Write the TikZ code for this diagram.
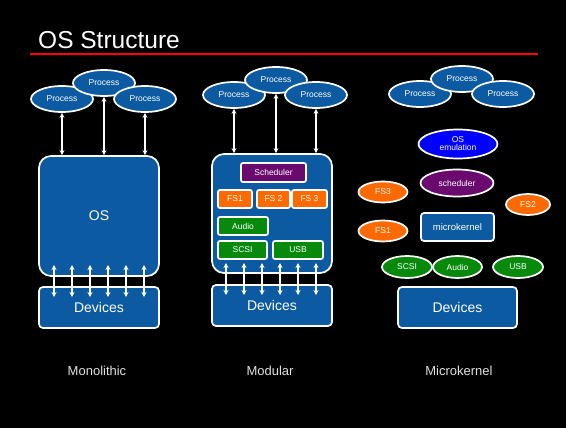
\documentclass[tikz,border=0pt]{standalone}
\usepackage{fontspec}
\setmainfont{Liberation Sans}
\usetikzlibrary{shapes.geometric,arrows.meta}
\definecolor{osblue}{HTML}{0B5AA2}
\definecolor{modorange}{HTML}{FF6A00}
\definecolor{modgreen}{HTML}{078A0C}
\definecolor{modpurple}{HTML}{6A0A6E}
\definecolor{emublue}{HTML}{0000FF}
\definecolor{titlered}{HTML}{FF0000}
\definecolor{labelgray}{HTML}{E0E0E0}
\tikzset{
  shapeline/.style={draw=white, line width=1.7pt, text=white, inner sep=0pt},
  proc/.style={shapeline, ellipse, fill=osblue, minimum width=62pt, minimum height=26pt, font=\fontsize{8.5}{9}\selectfont},
  bigbox/.style={shapeline, rectangle, fill=osblue, rounded corners=12pt},
  devbox/.style={shapeline, rectangle, fill=osblue, rounded corners=4pt, font=\fontsize{14}{16}\selectfont},
  module/.style={shapeline, rectangle, rounded corners=2pt, font=\fontsize{8.5}{9}\selectfont},
  oval/.style={shapeline, ellipse, font=\fontsize{8.5}{9}\selectfont},
  link/.style={draw=white, line width=1.2pt, {Stealth[length=5pt,width=5pt]}-{Stealth[length=5pt,width=5pt]}},
  caption/.style={text=labelgray, font=\fontsize{13}{15}\selectfont}
}
\begin{document}
\begin{tikzpicture}[x=1pt,y=-1pt]
\fill[black] (0,0) rectangle (566,428);
\useasboundingbox (0,0) rectangle (566,428);

% title
\node[anchor=base west, text=white, font=\fontsize{24.5}{28}\selectfont, inner sep=0pt] (title) at (38,49) {OS Structure};
\coordinate (rulel) at (30,54);
\coordinate (ruler) at (538,54);
\draw[draw=titlered, line width=1.4pt] (rulel) -- (ruler);

% ---------- Monolithic ----------
\node[bigbox, minimum width=120pt, minimum height=120pt, font=\fontsize{14}{16}\selectfont] (os) at (99,216) {OS};
\node[devbox, minimum width=120pt, minimum height=41pt] (mdev) at (99,307.5) {Devices};
\node[proc] (mp1) at (62,99) {Process};
\node[proc] (mp2) at (104,83) {Process};
\node[proc] (mp3) at (145,99) {Process};
\foreach \p in {mp1,mp2,mp3}
  \draw[link] (\p.south) -- (\p.south |- os.north);
\foreach \i/\x in {1/54,2/72,3/90,4/108,5/126,6/144} {
  \coordinate (mt\i) at (\x,265);
  \coordinate (mb\i) at (\x,297);
  \draw[link] (mt\i) -- (mb\i);
}
\node[caption] (lmono) at (97,371) {Monolithic};

% ---------- Modular ----------
\node[bigbox, minimum width=120pt, minimum height=119pt] (modk) at (272,213.5) {};
\node[devbox, minimum width=120pt, minimum height=41pt] (ddev) at (272,305.5) {Devices};
\node[module, fill=modpurple, minimum width=65pt, minimum height=19pt] (msched) at (273.5,172.5) {Scheduler};
\node[module, fill=modorange, minimum width=34pt, minimum height=18pt] (mfs1) at (235,199) {FS1};
\node[module, fill=modorange, minimum width=33pt, minimum height=18pt] (mfs2) at (273.5,199) {FS 2};
\node[module, fill=modorange, minimum width=35pt, minimum height=18pt] (mfs3) at (309.5,199) {FS 3};
\node[module, fill=modgreen, minimum width=50pt, minimum height=18pt] (maud) at (243,226) {Audio};
\node[module, fill=modgreen, minimum width=49pt, minimum height=18pt] (mscsi) at (242.5,250) {SCSI};
\node[module, fill=modgreen, minimum width=50pt, minimum height=18pt] (musb) at (298,250) {USB};
\node[proc] (dp1) at (234,95) {Process};
\node[proc] (dp2) at (276,80) {Process};
\node[proc] (dp3) at (316,95) {Process};
\foreach \p in {dp1,dp2,dp3}
  \draw[link] (\p.south) -- (\p.south |- modk.north);
\foreach \i/\x in {1/226,2/244,3/262,4/280,5/298,6/316} {
  \coordinate (dt\i) at (\x,263);
  \coordinate (db\i) at (\x,295);
  \draw[link] (dt\i) -- (db\i);
}
\node[caption] (lmod) at (270,371) {Modular};

% ---------- Microkernel ----------
\node[proc] (kp1) at (420,94) {Process};
\node[proc] (kp2) at (462,79) {Process};
\node[proc] (kp3) at (503,94) {Process};
\node[oval, fill=emublue, minimum width=79pt, minimum height=29pt, align=center] (kemu) at (458,144)
  {OS\\[-1pt]emulation};
\node[oval, fill=modpurple, minimum width=73pt, minimum height=27pt] (ksched) at (457,183) {scheduler};
\node[oval, fill=modorange, minimum width=49pt, minimum height=21pt] (kfs3) at (383,192) {FS3};
\node[oval, fill=modorange, minimum width=44pt, minimum height=21pt] (kfs2) at (528,204.5) {FS2};
\node[oval, fill=modorange, minimum width=49pt, minimum height=21pt] (kfs1) at (383,231) {FS1};
\node[module, fill=osblue, rounded corners=3pt, minimum width=73pt, minimum height=28pt, font=\fontsize{9.5}{11}\selectfont] (kmk) at (457.5,227) {microkernel};
\node[oval, fill=modgreen, minimum width=50pt, minimum height=22pt] (kscsi) at (407,267) {SCSI};
\node[oval, fill=modgreen, minimum width=49pt, minimum height=22pt] (kaud) at (457.5,267) {Audio};
\node[oval, fill=modgreen, minimum width=50pt, minimum height=22pt] (kusb) at (518,267) {USB};
\node[devbox, minimum width=119pt, minimum height=41pt] (kdev) at (457.5,307.5) {Devices};
\node[caption] (lmk) at (459,371) {Microkernel};
\end{tikzpicture}
\end{document}
